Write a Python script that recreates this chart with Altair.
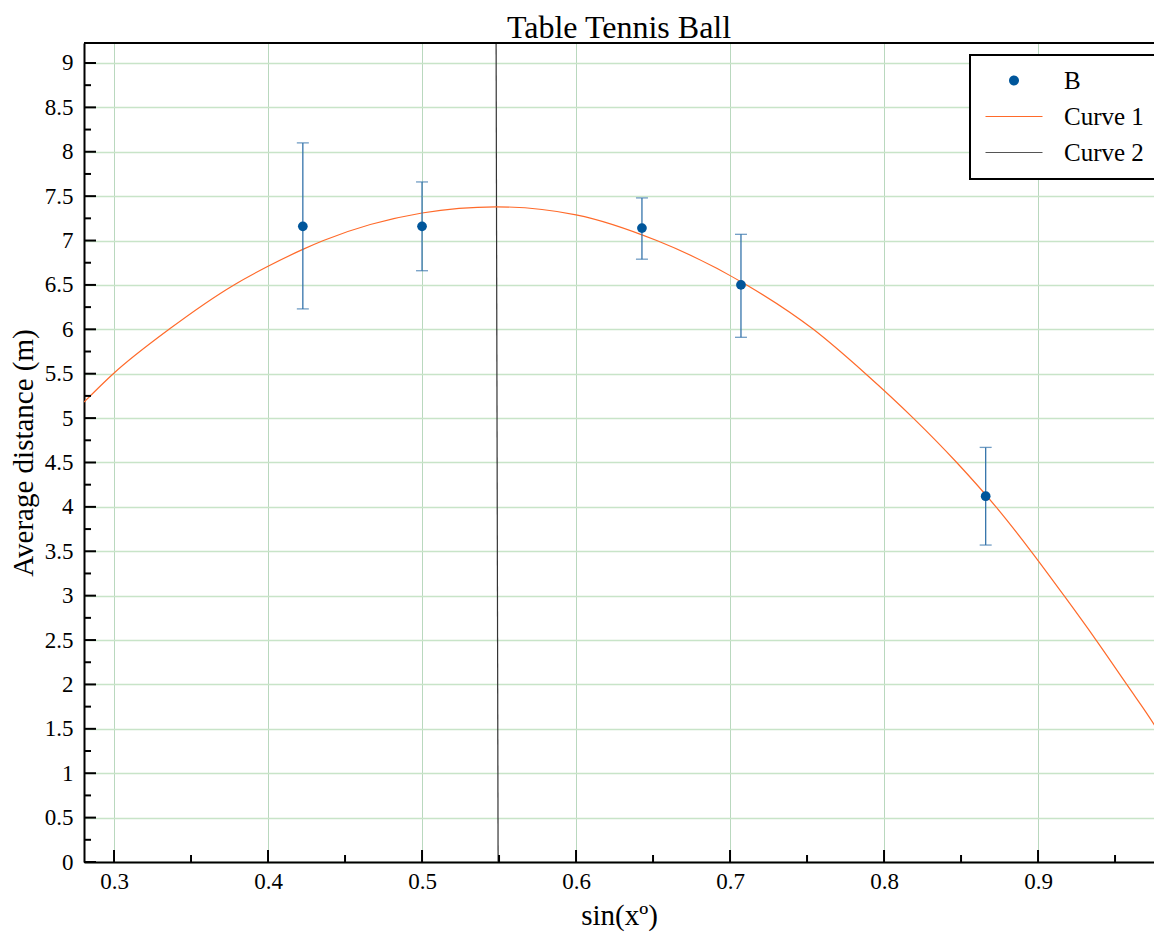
import altair as alt
import pandas as pd

# ---- data ----
pt_x = [0.4226, 0.5, 0.6428, 0.7071, 0.866]
pt_y = [7.16, 7.16, 7.14, 6.50, 4.12]
pt_lo = [6.23, 6.66, 6.79, 5.91, 3.57]
pt_hi = [8.10, 7.66, 7.48, 7.07, 4.67]

c1_x = [0.2805, 0.2995, 0.3357, 0.3779, 0.40, 0.4226, 0.436, 0.50, 0.548, 0.60,
        0.6524, 0.7108, 0.7541, 0.788, 0.819, 0.8472, 0.8727, 0.8955, 0.9169, 0.9377,
        0.9576, 0.9771, 0.9805]
c1_y = [5.18, 5.50, 6.00, 6.50, 6.71, 6.90, 7.00, 7.31, 7.38, 7.29,
        7.00, 6.50, 6.00, 5.50, 5.00, 4.50, 4.00, 3.50, 3.00, 2.50,
        2.00, 1.50, 1.40]

c2_x = [0.5481, 0.5494]
c2_y = [9.225, 0.0]

series = ["B", "Curve 1", "Curve 2"]
series_colors = ["#00569b", "#ff6a2a", "#555555"]

x_major = [0.3, 0.4, 0.5, 0.6, 0.7, 0.8, 0.9]
x_minor = [0.35, 0.45, 0.55, 0.65, 0.75, 0.85, 0.95]
y_major = [0, 0.5, 1, 1.5, 2, 2.5, 3, 3.5, 4, 4.5, 5, 5.5, 6, 6.5, 7, 7.5, 8, 8.5, 9]
y_minor = [0.25, 0.75, 1.25, 1.75, 2.25, 2.75, 3.25, 3.75, 4.25, 4.75, 5.25, 5.75,
           6.25, 6.75, 7.25, 7.75, 8.25, 8.75]

W, H = 1070, 819
FONT = "Liberation Serif"

pts = pd.DataFrame({"x": pt_x, "y": pt_y, "lo": pt_lo, "hi": pt_hi})
c1 = pd.DataFrame({"x": c1_x, "y": c1_y})
c2 = pd.DataFrame({"x": c2_x, "y": c2_y})
leg = pd.DataFrame({"series": series})
xmaj = pd.DataFrame({"x": x_major})
xmin = pd.DataFrame({"x": x_minor})
ymaj = pd.DataFrame({"y": y_major})
ymin = pd.DataFrame({"y": y_minor})

xscale = alt.Scale(domain=[0.2805, 0.9753], nice=False, zero=False)
yscale = alt.Scale(domain=[0, 9.225], nice=False, zero=False)

ax_x = alt.Axis(values=x_major, title="sin(xº)", format="~g", gridColor="#b9d8be",
                gridWidth=1, labelPadding=8, titlePadding=8)
ax_y = alt.Axis(values=y_major, title="Average distance (m)", format="~g",
                gridColor="#c8e4c8", gridWidth=1.6, labelPadding=11, titlePadding=6)

X = lambda f="x": alt.X(f"{f}:Q", scale=xscale, axis=ax_x)
Y = lambda f="y": alt.Y(f"{f}:Q", scale=yscale, axis=ax_y)

curve1 = alt.Chart(c1).mark_line(color="#ff6a2a", strokeWidth=1.2, clip=True,
                                  interpolate="monotone").encode(x=X(), y=Y())
curve2 = alt.Chart(c2).mark_line(color="#333333", strokeWidth=1.2, clip=True).encode(x=X(), y=Y())

errbar = alt.Chart(pts).mark_rule(color="#3574ab", strokeWidth=1.3).encode(
    x=X(), y=Y("lo"), y2="hi:Q")
cap_lo = alt.Chart(pts).mark_tick(color="#3574ab", orient="horizontal", size=12,
                                  thickness=1.3).encode(x=X(), y=Y("lo"))
cap_hi = alt.Chart(pts).mark_tick(color="#3574ab", orient="horizontal", size=12,
                                  thickness=1.3).encode(x=X(), y=Y("hi"))
points = alt.Chart(pts).mark_circle(color="#00569b", size=95, opacity=1).encode(x=X(), y=Y())

circle_path = "M1.35,0 A0.5,0.5 0 1,0 2.35,0 A0.5,0.5 0 1,0 1.35,0 Z"
line_path = "M-1,-0.06 L4.7,-0.06 L4.7,0.06 L-1,0.06 Z"
legend_kw = dict(orient="none", legendX=886, legendY=12, labelFont=FONT, labelFontSize=25,
                 labelColor="black", labelOffset=56, symbolSize=400, symbolStrokeWidth=0,
                 rowPadding=10, padding=13, fillColor="white", strokeColor="black",
                 cornerRadius=0, labelLimit=300)
legend_layer = alt.Chart(leg).transform_filter("false").mark_point(
    filled=True, size=400, opacity=1).encode(
    color=alt.Color("series:N", title=None,
                    scale=alt.Scale(domain=series, range=series_colors),
                    legend=alt.Legend(**legend_kw)),
    shape=alt.Shape("series:N", title=None,
                    scale=alt.Scale(domain=series, range=[circle_path, line_path, line_path]),
                    legend=alt.Legend(**legend_kw)),
)

xt_major = alt.Chart(xmaj).mark_rule(color="black", strokeWidth=2).encode(
    x=X(), y=alt.value(H), y2=alt.value(H - 12))
xt_minor = alt.Chart(xmin).mark_rule(color="black", strokeWidth=2).encode(
    x=X(), y=alt.value(H), y2=alt.value(H - 7))
yt_major = alt.Chart(ymaj).mark_rule(color="black", strokeWidth=2).encode(
    y=Y(), x=alt.value(0), x2=alt.value(12))
yt_minor = alt.Chart(ymin).mark_rule(color="black", strokeWidth=2).encode(
    y=Y(), x=alt.value(0), x2=alt.value(7))
top_border = alt.Chart(xmaj).mark_rule(color="black", strokeWidth=2).encode(
    y=alt.value(0), x=alt.value(0), x2=alt.value(W))

chart = alt.layer(
    curve2, curve1, errbar, cap_lo, cap_hi, points,
    xt_major, xt_minor, yt_major, yt_minor, top_border, legend_layer,
).properties(
    width=W, height=H,
    autosize=alt.AutoSizeParams(type="none"),
    padding={"left": 76, "top": 35, "right": 0, "bottom": 70},
    title=alt.Title("Table Tennis Ball", font=FONT, fontSize=32, fontWeight="normal",
                    color="black", anchor="middle", offset=0, dy=3),
).configure_view(stroke=None).configure_legend(strokeWidth=2).configure_axis(
    grid=True, ticks=False, tickSize=0, domainColor="black", domainWidth=2,
    labelFont=FONT, labelFontSize=23, labelColor="black", labelFlush=False,
    labelOverlap=False, titleFont=FONT, titleFontSize=29, titleFontWeight="normal",
    titleColor="black",
)

chart.save("out.html", embed_options={"renderer": "svg", "actions": False})
